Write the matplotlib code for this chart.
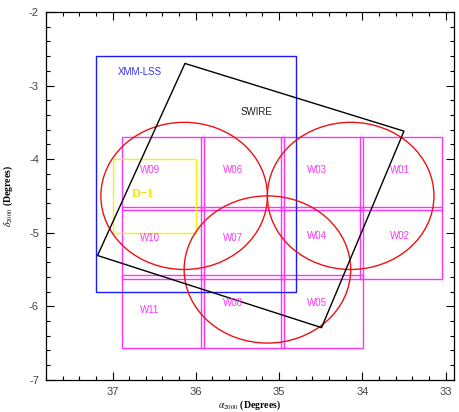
import matplotlib
matplotlib.use("Agg")
import matplotlib.pyplot as plt
from matplotlib.patches import Rectangle, Circle, Polygon
from matplotlib.ticker import MultipleLocator

plt.rcParams["mathtext.fontset"] = "stix"

# CFHTLS-style wide pointings: name, RA range, Dec range (degrees)
field_names = ["W01", "W02", "W03", "W04", "W05", "W06",
               "W07", "W08", "W09", "W10", "W11"]
field_ra_lo = [33.04, 33.04, 33.99, 33.99, 33.99, 34.94,
               34.94, 34.94, 35.90, 35.90, 35.90]
field_ra_hi = [34.03, 34.03, 34.98, 34.98, 34.98, 35.94,
               35.94, 35.94, 36.89, 36.89, 36.89]
field_dec_lo = [-4.69, -5.63, -4.69, -5.63, -6.57, -4.69,
                -5.63, -6.57, -4.69, -5.63, -6.57]
field_dec_hi = [-3.70, -4.646, -3.70, -4.646, -5.574, -3.70,
                -4.646, -5.574, -3.70, -4.646, -5.574]
label_ra = [33.55, 33.55, 34.54, 34.54, 34.54, 35.55,
            35.55, 35.55, 36.55, 36.55, 36.55]
label_dec = [-4.15, -5.05, -4.15, -5.05, -5.95, -4.15,
             -5.07, -5.95, -4.15, -5.07, -6.05]

# Circular footprints (centre RA, centre Dec, radius)
circle_ra = [36.14, 34.14, 35.14]
circle_dec = [-4.50, -4.50, -5.50]
circle_radius = [1.0, 1.0, 1.0]

# XMM-LSS area
xmm_ra = [34.8, 37.2]
xmm_dec = [-5.8, -2.6]

# Deep field D-1
d1_ra = [36.0, 37.0]
d1_dec = [-5.0, -4.0]

# SWIRE tilted footprint corners
swire_ra = [36.13, 33.50, 34.49, 37.18]
swire_dec = [-2.70, -3.62, -6.29, -5.31]

x_ticks = [37, 36, 35, 34, 33]
y_ticks = [-2, -3, -4, -5, -6, -7]

fig = plt.figure(figsize=(4.59, 4.12), dpi=100)
ax = fig.add_axes([0.100, 0.078, 0.889, 0.893])

pink = "#ff33ff"
for i, name in enumerate(field_names):
    ax.add_patch(Rectangle((field_ra_lo[i], field_dec_lo[i]),
                           field_ra_hi[i] - field_ra_lo[i],
                           field_dec_hi[i] - field_dec_lo[i],
                           fill=False, ec=pink, lw=1.0, zorder=2))
    ax.text(label_ra[i], label_dec[i], name, color=pink, fontsize=7,
            ha="center", va="center", family="Liberation Sans", zorder=5)

for cx, cy, r in zip(circle_ra, circle_dec, circle_radius):
    ax.add_patch(Circle((cx, cy), r, fill=False, ec="#ee1111", lw=1.0,
                        zorder=3))

ax.add_patch(Rectangle((xmm_ra[0], xmm_dec[0]), xmm_ra[1] - xmm_ra[0],
                       xmm_dec[1] - xmm_dec[0], fill=False, ec="#1a1aff",
                       lw=1.0, zorder=2))
ax.text(36.67, -2.81, "XMM-LSS", color="#3333ff", fontsize=7,
        ha="center", va="center", family="Liberation Sans")

ax.add_patch(Rectangle((d1_ra[0], d1_dec[0]), d1_ra[1] - d1_ra[0],
                       d1_dec[1] - d1_dec[0], fill=False, ec="#f5f500",
                       lw=1.0, zorder=2))
ax.text(36.64, -4.47, "D\u22121", color="#e8e800", fontsize=9,
        ha="center", va="center", family="Liberation Serif",
        fontweight="bold", zorder=5)

ax.add_patch(Polygon(list(zip(swire_ra, swire_dec)), closed=True,
                     fill=False, ec="black", lw=1.0, zorder=4))
ax.text(35.27, -3.36, "SWIRE", color="#222222", fontsize=7,
        ha="center", va="center", family="Liberation Sans")

ax.set_xlim(37.8, 32.9)
ax.set_ylim(-7, -2)
ax.set_xticks(x_ticks)
ax.set_yticks(y_ticks)
ax.set_xticklabels([str(v) for v in x_ticks])
ax.set_yticklabels([str(v).replace("\u2212", "-") for v in y_ticks])
ax.xaxis.set_minor_locator(MultipleLocator(0.2))
ax.yaxis.set_minor_locator(MultipleLocator(0.2))
ax.tick_params(which="both", direction="in", top=True, right=True,
               labelsize=8, labelcolor="#444444", width=0.8)
ax.tick_params(which="major", length=6, pad=5)
ax.tick_params(which="minor", length=3)
for lab in ax.get_xticklabels() + ax.get_yticklabels():
    lab.set_family("Liberation Sans")
for s in ax.spines.values():
    s.set_linewidth(0.9)

ax.set_xlabel(r"$\alpha_{2000}$ (Degrees)", fontsize=7,
              family="Liberation Serif", fontweight="bold", labelpad=1)
ax.set_ylabel(r"$\delta_{2000}$ (Degrees)", fontsize=7,
              family="Liberation Serif", fontweight="bold", labelpad=10)

fig.savefig("out.png", dpi=100)
